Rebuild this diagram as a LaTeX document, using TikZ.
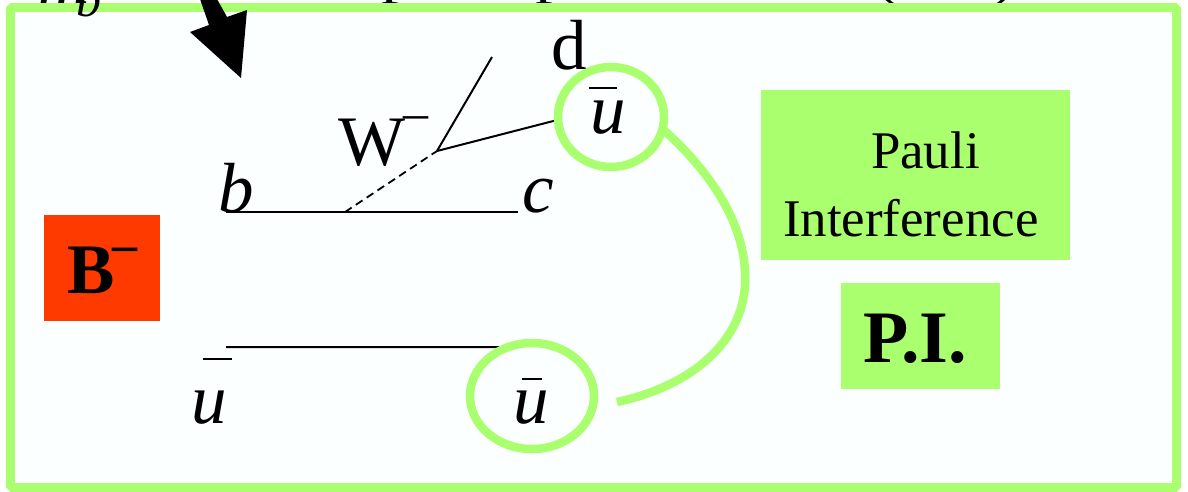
\documentclass[tikz,border=0pt]{standalone}
\usepackage{fontspec}
\setmainfont{Liberation Serif}
\usetikzlibrary{shapes.geometric}
\definecolor{pgreen}{HTML}{A9FF6E}
\definecolor{pred}{HTML}{FF3A00}
\definecolor{pbg}{HTML}{FBFFFF}
\newcommand{\bigf}{\fontsize{71}{71}\selectfont}
\newcommand{\pif}{\fontsize{74}{74}\selectfont}
\newcommand{\midf}{\fontsize{52.9}{52.9}\selectfont}
\newcommand{\subf}{\fontsize{50}{50}\selectfont}
\tikzset{
  lbl/.style={anchor=base west,inner sep=0pt,outer sep=0pt},
  big/.style={lbl,font=\bigf},
  bigit/.style={lbl,font=\bigf\itshape},
  bigbf/.style={lbl,font=\bigf\bfseries},
  mid/.style={lbl,font=\midf},
  box/.style={anchor=north west,inner sep=0pt,outer sep=0pt,fill=pgreen},
  ring/.style={ellipse,draw=pgreen,line width=8.5pt,inner sep=0pt,outer sep=0pt},
  quark/.style={line width=2pt,black},
  gluon/.style={line width=1.8pt,black,dash pattern=on 8pt off 5pt},
  barline/.style={line width=1.6pt,black},
  plink/.style={line width=8.5pt,pgreen}
}
\begin{document}
\begin{tikzpicture}[x=1pt,y=-1pt]
\useasboundingbox (0,0) rectangle (1188,491);
\fill[white] (0,0) rectangle (1188,491);
% cropped heading remains, behind the frame
\begin{scope}
\clip (0,0) rectangle (1188,491);
\node[big] (hp1) at (381,-11) {p};
\node[big] (hp2) at (535,-11) {p};
\node[big] (hl) at (873,-9) {(};
\node[big] (hr) at (994,-9) {)};
\end{scope}
% frame
\draw[pgreen,fill=pbg,line width=9pt,line join=bevel] (10.5,7.5) rectangle (1176.5,487.5);
\begin{scope}
\clip (0,0) rectangle (1188,491);
\node[bigit] (hm) at (38,3.5) {m};
\node[lbl,font=\subf\itshape] (hb) at (76,16) {b};
\end{scope}
% boxes
\node[box,fill=pred,minimum width=116pt,minimum height=106pt] (bbox) at (44,215) {};
\node[box,minimum width=309pt,minimum height=170pt] (pibox) at (761,90) {};
\node[box,minimum width=159pt,minimum height=106pt] (pishort) at (841,283) {};
\node[bigbf] (bm) at (67,293) {B};
\node[lbl,font=\subf\bfseries] (bmm) at (112,261) {–};
\node[mid] (pauli) at (871,168) {Pauli};
\node[mid] (interf) at (783,236) {Interference};
\node[lbl,font=\pif\bfseries] (pi) at (863,362) {P.I.};
% coordinates
\coordinate (bs) at (226,212);
\coordinate (ce) at (518,212);
\coordinate (ws) at (345,212);
\coordinate (v) at (437,151);
\coordinate (de) at (492,57);
\coordinate (us) at (226,347);
\coordinate (arcend) at (617,402);
% rings (placed first so anchors exist; redrawn order handled by layers below)
\node[ring,draw=none,minimum width=106pt,minimum height=100pt] (c1) at (611,117) {};
\node[ring,draw=none,minimum width=124pt,minimum height=106pt] (c2) at (532,396) {};
% quark lines
\draw[quark] (bs) -- (ce);
\draw[gluon] (ws) -- (v);
\draw[quark] (v) -- (de);
\draw[quark] (v) -- (c1.183);
\draw[quark] (us) -- (c2.116);
% ring outlines on top of the lines
\draw[pgreen,line width=8.5pt] (c1.center) ellipse [x radius=53pt,y radius=50pt];
\draw[pgreen,line width=8.5pt] (c2.center) ellipse [x radius=62pt,y radius=53pt];
% link
\draw[plink] (c1.-13) .. controls (720,180) and (748,235) .. (745,285)
  .. controls (742,340) and (695,385) .. (arcend);
% labels
\node[bigit] (lb) at (218,212) {b};
\node[bigit] (lc) at (522,212) {c};
\node[big] (ld) at (551,69) {d};
\node[big] (lw) at (338,165) {W};
\node[lbl,font=\subf] (lwm) at (403,129) {–};
\node[bigit] (u1) at (590,133) {u};
\draw[barline] (589,88) -- (617,88);
\node[bigit] (u2) at (513,423) {u};
\draw[barline] (522,379) -- (542,379);
\node[bigit] (u3) at (191,423) {u};
\draw[barline] (203,359) -- (232,359);
% big arrow
\fill[black] (200,-1) -- (217,-1) -- (227,17) -- (247,10) -- (241,78) -- (190,32) -- (209,25) -- cycle;
\end{tikzpicture}
\end{document}
